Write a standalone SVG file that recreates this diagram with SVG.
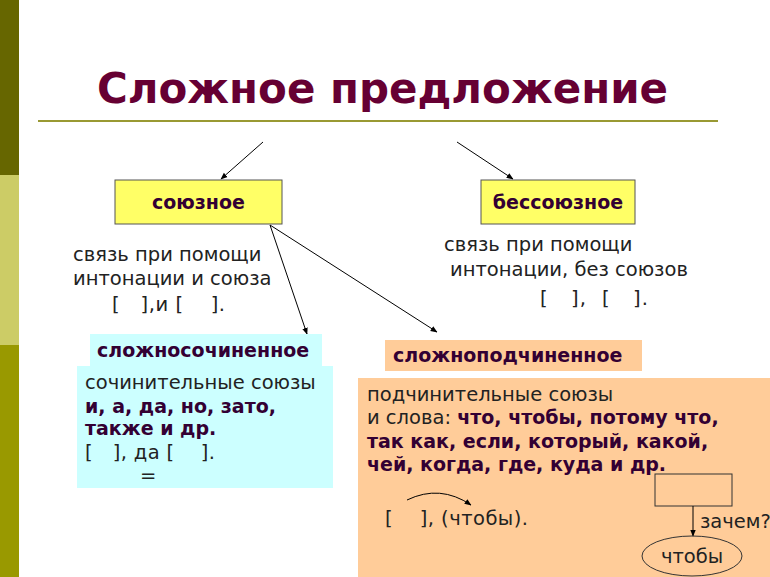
<svg xmlns="http://www.w3.org/2000/svg" width="770" height="577" viewBox="0 0 770 577">
<defs>
<marker id="ah" viewBox="0 0 10 10" refX="9" refY="5" markerWidth="7" markerHeight="7" orient="auto" markerUnits="userSpaceOnUse">
<path d="M0,1 L10,5 L0,9 z" fill="#000"/>
</marker>
<style>
.t{font-family:"DejaVu Sans",Verdana,sans-serif;font-size:19.5px;fill:#222}
.b{font-family:"DejaVu Sans",Verdana,sans-serif;font-size:19px;font-weight:bold;fill:#330033}
.lbl{font-family:"DejaVu Sans",Verdana,sans-serif;font-size:19px;font-weight:bold;fill:#330033}
.c{stroke:#000;stroke-width:1;fill:none}
</style>
</defs>
<rect x="0" y="0" width="770" height="577" fill="#fff"/>
<rect x="0" y="0" width="19" height="175" fill="#666600"/>
<rect x="0" y="175" width="19" height="170" fill="#cccc66"/>
<rect x="0" y="345" width="19" height="232" fill="#999900"/>
<g id="title">
<text x="97" y="103" font-family="DejaVu Sans,Verdana,sans-serif" font-size="42" font-weight="bold" fill="#660033" textLength="571" lengthAdjust="spacingAndGlyphs">Сложное предложение</text>
<line x1="38" y1="121" x2="718" y2="121" stroke="#999933" stroke-width="2"/>
</g>
<g id="connectors">
<line class="c" x1="263" y1="142" x2="221" y2="179" marker-end="url(#ah)"/>
<line class="c" x1="457" y1="142" x2="513" y2="179" marker-end="url(#ah)"/>
<line class="c" x1="270" y1="225" x2="307" y2="334" marker-end="url(#ah)"/>
<line class="c" x1="270" y1="225" x2="437" y2="332" marker-end="url(#ah)"/>
</g>
<g id="soyuznoe">
<rect x="115" y="180" width="167" height="44" fill="#ffff66" stroke="#555" stroke-width="1"/>
<text class="lbl" x="198.5" y="209" text-anchor="middle">союзное</text>
</g>
<g id="bessoyuznoe">
<rect x="481" y="180" width="154" height="44" fill="#ffff66" stroke="#555" stroke-width="1"/>
<text class="lbl" x="558" y="209" text-anchor="middle">бессоюзное</text>
</g>
<g id="soyuznoe-desc">
<text class="t" x="73" y="261">связь при помощи</text>
<text class="t" x="73" y="285">интонации и союза</text>
<text class="t" x="112" y="311" xml:space="preserve" textLength="113" lengthAdjust="spacing">[   ],и [    ].</text>
</g>
<g id="bessoyuznoe-desc">
<text class="t" x="444" y="251">связь при помощи</text>
<text class="t" x="450" y="276">интонации, без союзов</text>
<text class="t" x="540" y="305" xml:space="preserve" textLength="108" lengthAdjust="spacing">[   ],  [   ].</text>
</g>
<g id="slozhnosochinennoe">
<rect x="90" y="334" width="232" height="32" fill="#ccffff"/>
<text class="lbl" x="97" y="357">сложносочиненное</text>
<rect x="77" y="366" width="256" height="122" fill="#ccffff"/>
<text class="t" x="85" y="389">сочинительные союзы</text>
<text class="b" x="85" y="413">и, а, да, но, зато,</text>
<text class="b" x="85" y="435">также и др.</text>
<text class="t" x="85" y="459" xml:space="preserve" textLength="130" lengthAdjust="spacing">[   ], да [    ].</text>
<text class="t" x="140" y="482">=</text>
</g>
<g id="slozhnopodchinennoe">
<rect x="385" y="340" width="257" height="31" fill="#ffcc99"/>
<text class="lbl" x="393" y="362">сложноподчиненное</text>
<rect x="358" y="378" width="412" height="199" fill="#ffcc99"/>
<text class="t" x="367" y="401">подчинительные союзы</text>
<text class="t" x="367" y="424">и слова: <tspan class="b">что, чтобы, потому что,</tspan></text>
<text class="b" x="367" y="448">так как, если, который, какой,</text>
<text class="b" x="367" y="471">чей, когда, где, куда и др.</text>
<text class="t" x="385" y="525" xml:space="preserve" textLength="143" lengthAdjust="spacing">[    ], (чтобы).</text>
<path class="c" d="M407,500 Q440,484 471,505" marker-end="url(#ah)"/>
<rect x="655" y="474" width="77" height="32" fill="none" stroke="#333" stroke-width="1"/>
<line class="c" x1="693" y1="506" x2="693" y2="536" marker-end="url(#ah)"/>
<text class="t" x="700" y="528">зачем?</text>
<ellipse cx="692" cy="556" rx="50" ry="20" fill="none" stroke="#333" stroke-width="1"/>
<text class="t" x="692" y="563" text-anchor="middle">чтобы</text>
</g>
</svg>
